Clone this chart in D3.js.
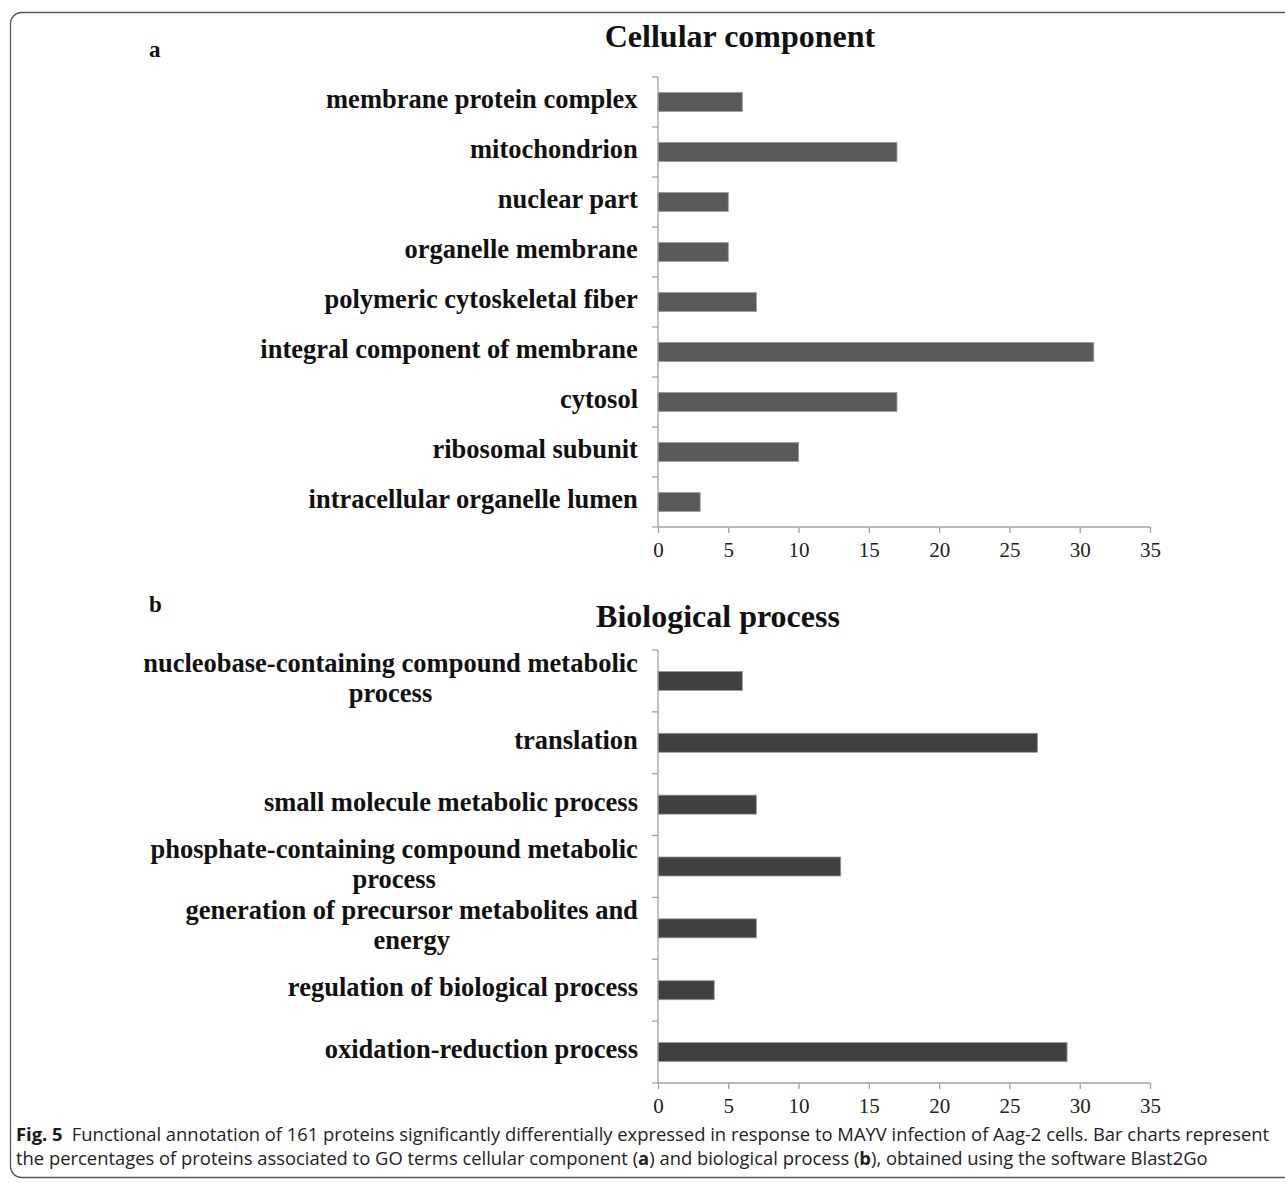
<!DOCTYPE html>
<html>
<head>
<meta charset="utf-8">
<script src="https://cdnjs.cloudflare.com/ajax/libs/d3/7.8.5/d3.min.js"></script>
<style>
  html, body { margin: 0; padding: 0; background: #fff; }
  svg { display: block; }
</style>
</head>
<body>
<svg id="fig" width="1285" height="1183"></svg>
<script>
// GO term percentages, cellular component (panel a)
const ccTerms = [
  "membrane protein complex",
  "mitochondrion",
  "nuclear part",
  "organelle membrane",
  "polymeric cytoskeletal fiber",
  "integral component of membrane",
  "cytosol",
  "ribosomal subunit",
  "intracellular organelle lumen"
];
const ccValues = [6, 17, 5, 5, 7, 31, 17, 10, 3];

// GO term percentages, biological process (panel b); each label is a list of lines
const bpTerms = [
  ["nucleobase-containing compound metabolic", "process"],
  ["translation"],
  ["small molecule metabolic process"],
  ["phosphate-containing compound metabolic", "process"],
  ["generation of precursor metabolites and", "energy"],
  ["regulation of biological process"],
  ["oxidation-reduction process"]
];
const bpValues = [6, 27, 7, 13, 7, 4, 29.1];

const xTicks = [0, 5, 10, 15, 20, 25, 30, 35];

const svg = d3.select("#fig");
const serif = "'Liberation Serif', 'Times New Roman', serif";

// rounded frame around the figure
svg.append("rect")
  .attr("x", 10.5).attr("y", 12.5)
  .attr("width", 1300).attr("height", 1165)
  .attr("rx", 11).attr("ry", 11)
  .attr("fill", "none").attr("stroke", "#5a5a5a").attr("stroke-width", 1.3);

const x = d3.scaleLinear().domain([0, 35]).range([658, 1150]);

function panel(opts) {
  const { terms, values, top, bottom, fill, letter, letterY, title, titleX, titleY } = opts;
  const keys = terms.map((t, i) => i);
  const y = d3.scaleBand().domain(keys).range([top, bottom]).padding(0);
  const g = svg.append("g");

  // panel letter and title
  g.append("text").attr("x", 149).attr("y", letterY)
    .attr("font-family", serif).attr("font-weight", "bold").attr("font-size", 23)
    .attr("fill", "#111").text(letter);
  g.append("text").attr("x", titleX).attr("y", titleY).attr("text-anchor", "middle")
    .attr("font-family", serif).attr("font-weight", "bold").attr("font-size", 32)
    .attr("fill", "#111").text(title);

  // bars
  const barH = 19;
  g.selectAll("rect.bar").data(values).enter().append("rect")
    .attr("class", "bar")
    .attr("x", x(0))
    .attr("y", (d, i) => y(i) + (y.bandwidth() - barH) / 2)
    .attr("width", d => x(d) - x(0))
    .attr("height", barH)
    .attr("fill", fill)
    .attr("stroke", "#9a9a9a").attr("stroke-width", 0.8);

  // category axis: vertical line with ticks on band boundaries
  const axisColor = "#a0a0a0";
  g.append("line").attr("x1", x(0)).attr("x2", x(0)).attr("y1", top).attr("y2", bottom)
    .attr("stroke", axisColor).attr("stroke-width", 1.3);
  const bounds = keys.map(k => y(k)).concat([bottom]);
  g.selectAll("line.ytick").data(bounds).enter().append("line")
    .attr("class", "ytick")
    .attr("x1", x(0) - 6).attr("x2", x(0))
    .attr("y1", d => d).attr("y2", d => d)
    .attr("stroke", axisColor).attr("stroke-width", 1.3);

  // category labels, right aligned block with centred lines
  const lineH = 30;
  terms.forEach((lines, i) => {
    const cy = y(i) + y.bandwidth() / 2;
    const t = g.append("text")
      .attr("font-family", serif).attr("font-weight", "bold").attr("font-size", 26.5)
      .attr("fill", "#111").attr("text-anchor", "middle");
    lines.forEach((ln, j) => {
      t.append("tspan").attr("x", 0)
        .attr("y", cy + (j - (lines.length - 1) / 2) * lineH + 6)
        .text(ln);
    });
    const w = t.node().getBBox().width;
    t.selectAll("tspan").attr("x", 638 - w / 2);
  });

  // value axis
  const xAxis = d3.axisBottom(x).tickValues(xTicks).tickSize(6).tickPadding(9).tickFormat(d3.format("d"));
  const ax = g.append("g").attr("transform", `translate(0,${bottom})`).call(xAxis);
  ax.selectAll("path, line").attr("stroke", axisColor).attr("stroke-width", 1.3);
  ax.select("path").attr("d", `M${x(0)},0H${x(35)}`);
  ax.selectAll("text").attr("font-family", serif).attr("font-size", 21).attr("fill", "#222");
}

panel({
  terms: ccTerms.map(t => [t]), values: ccValues,
  top: 77, bottom: 527, fill: "#595959",
  letter: "a", letterY: 57, title: "Cellular component", titleX: 740, titleY: 47
});

panel({
  terms: bpTerms, values: bpValues,
  top: 650, bottom: 1083, fill: "#404040",
  letter: "b", letterY: 612, title: "Biological process", titleX: 718, titleY: 627
});

// caption, set in a condensed face by squeezing horizontally
const capFont = "'Open Sans', 'Noto Sans', sans-serif";
const capSize = 18.5;
const cap = svg.append("g");
const cap1 = cap.append("text").attr("x", 0).attr("y", 1141)
  .attr("font-family", capFont).attr("font-size", capSize).attr("fill", "#222");
cap1.append("tspan").attr("font-weight", "bold").attr("fill", "#1a1a1a").text("Fig. 5");
cap1.append("tspan").text("\u2002Functional annotation of 161 proteins significantly differentially expressed in response to MAYV infection of Aag-2 cells. Bar charts represent");

const cap2 = cap.append("text").attr("x", 0).attr("y", 1165)
  .attr("font-family", capFont).attr("font-size", capSize).attr("fill", "#222");
cap2.append("tspan").text("the percentages of proteins associated to GO terms cellular component (");
cap2.append("tspan").attr("font-weight", "bold").text("a");
cap2.append("tspan").text(") and biological process (");
cap2.append("tspan").attr("font-weight", "bold").text("b");
cap2.append("tspan").text("), obtained using the software Blast2Go");

const w1 = cap1.node().getComputedTextLength();
const kx = (1270 - 16) / w1;
cap.attr("transform", `translate(16,0) scale(${kx},1)`);
</script>
</body>
</html>
